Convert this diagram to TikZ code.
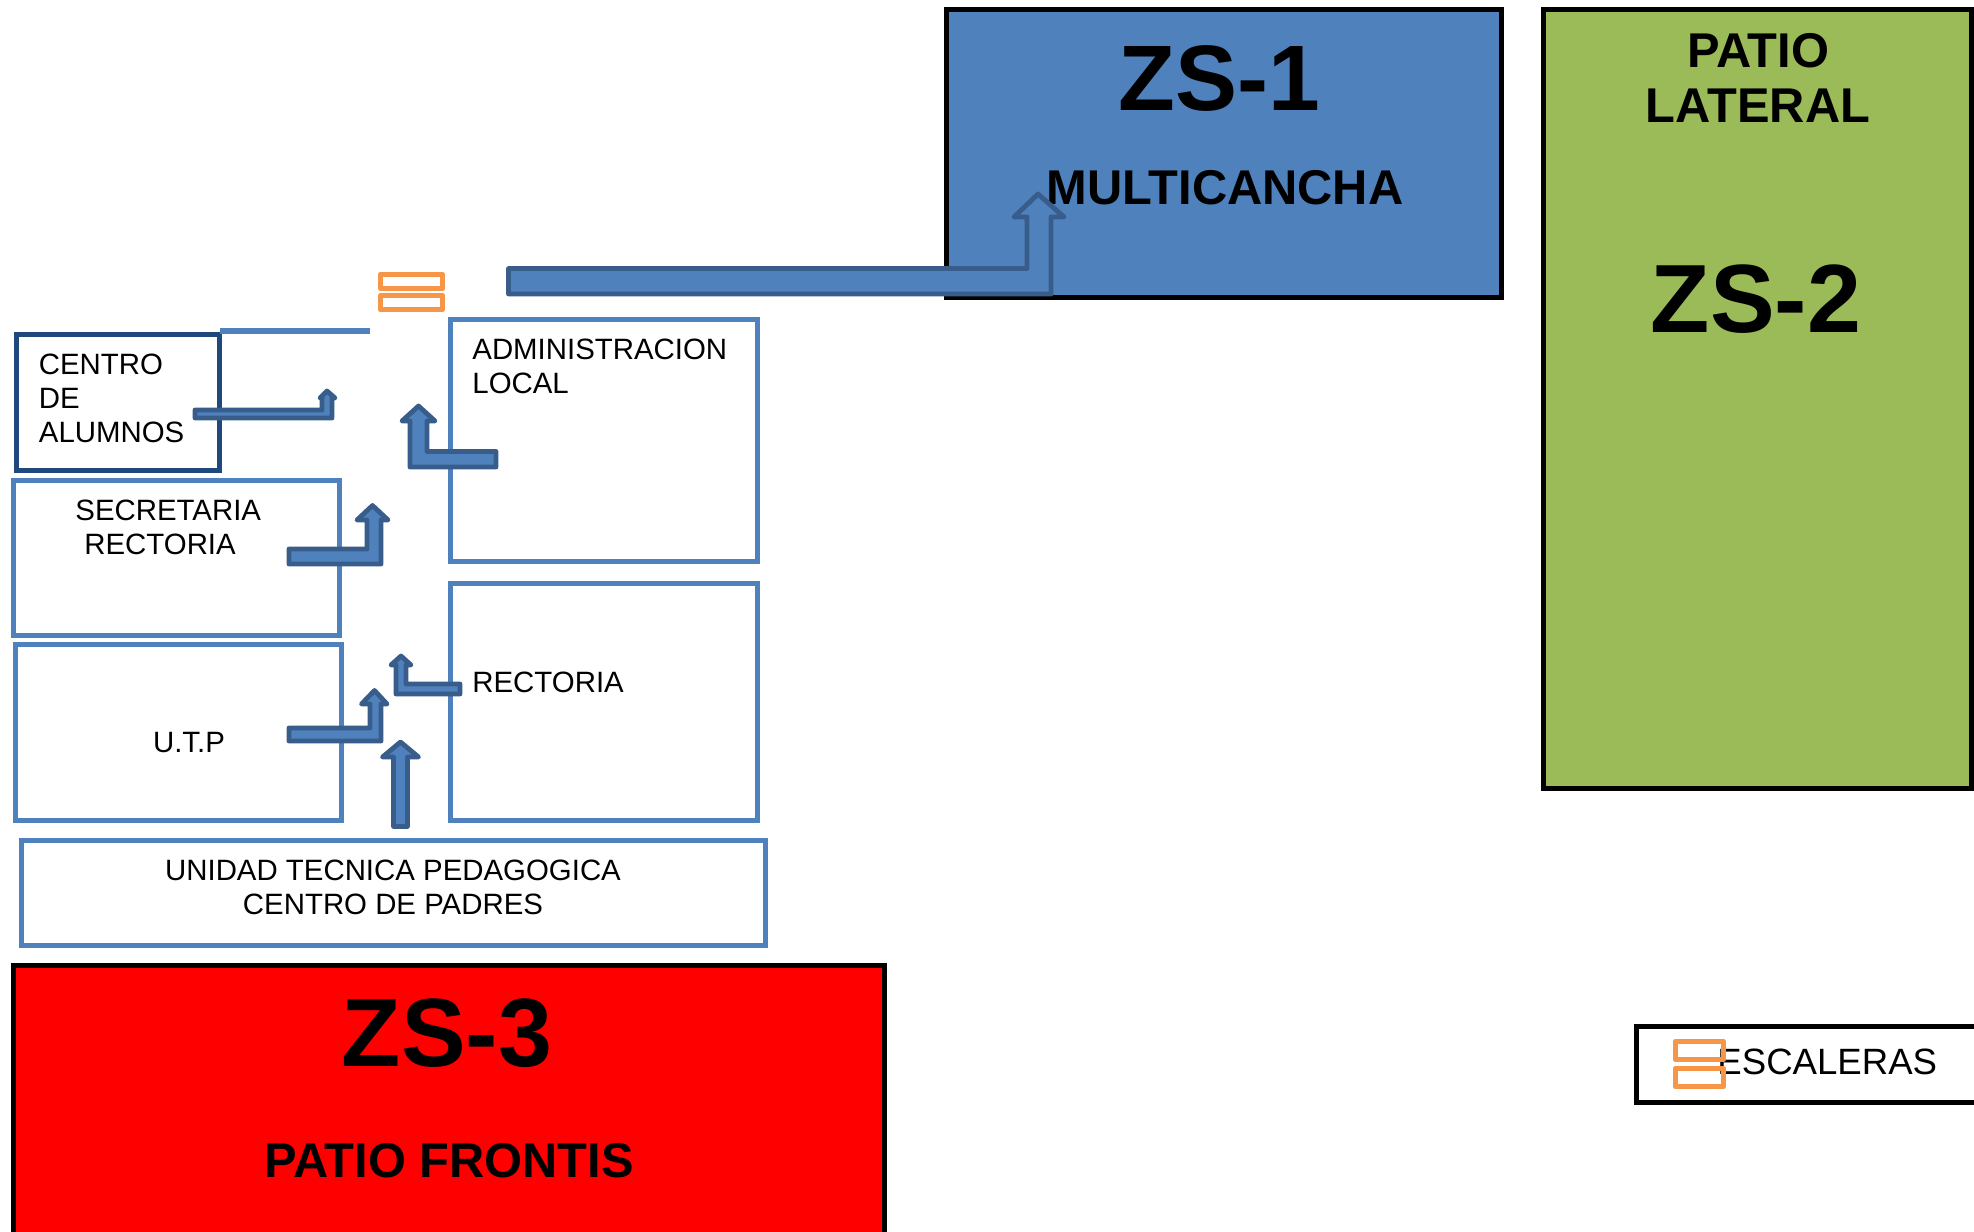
\documentclass[tikz,border=0pt]{standalone}
\usepackage{fontspec}
\setmainfont{Liberation Sans}
\definecolor{azul}{HTML}{4F81BD}
\definecolor{azulborde}{HTML}{385D8A}
\definecolor{azuloscuro}{HTML}{1F497D}
\definecolor{naranja}{HTML}{F79646}
\definecolor{verde}{HTML}{9BBB59}
\tikzset{
  oficina/.style={draw=azul, line width=2.5pt, fill=white},
  zona/.style={draw=black, line width=2.5pt},
  flecha/.style={draw=azulborde, fill=azul, line width=2.4pt, line join=round},
  escalon/.style={draw=naranja, line width=2.7pt, line join=round},
  rotulo/.style={inner sep=0pt, font=\fontsize{14.7}{17}\selectfont},
  zonatitulo/.style={inner sep=0pt, font=\fontsize{48.5}{48}\selectfont\bfseries},
  zonanombre/.style={inner sep=0pt, font=\fontsize{24.4}{27.5}\selectfont\bfseries}
}
\begin{document}
\begin{tikzpicture}[x=0.5pt,y=-0.5pt]
    \clip (0,0) rectangle (1974,1231);
    \fill [white] (0,0) rectangle (1974,1231);

    \draw [zona, fill=azul] (946.5,9.5) rectangle (1501,297);
    \draw [zona, fill=verde] (1543.5,9.5) rectangle (1971.5,788);
    \draw [zona, fill=red] (13.5,965.5) rectangle (884,1250);
    \draw [zona] (1636.5,1026.5) rectangle (1990,1102.5);

    \draw [oficina] (450,319) rectangle (757.5,561);
    \draw [oficina] (450,583) rectangle (757.5,820);
    \draw [oficina] (13.5,480) rectangle (339.5,635);
    \draw [oficina] (15.5,644) rectangle (341.5,820);
    \draw [oficina] (21,840) rectangle (765.5,945);
    \draw [oficina, draw=azuloscuro] (16.5,334.5) rectangle (219.5,470.5);
    \draw [azul, line width=3pt] (220,331) -- (369.5,331);

    \node [zonatitulo, anchor=base, font=\fontsize{46.5}{48}\selectfont\bfseries] (zs1) at (1219,110) {ZS-1};
    \node [zonanombre, anchor=base] (multicancha) at (1225,204) {MULTICANCHA};
    \node [zonanombre, anchor=base, align=center] (lateral) at (1758,122) {PATIO\\LATERAL};
    \node [zonatitulo, anchor=base] (zs2) at (1756,332) {ZS-2};
    \node [zonatitulo, anchor=base] (zs3) at (447,1066) {ZS-3};
    \node [zonanombre, anchor=base] (frontis) at (449,1177) {PATIO FRONTIS};

    \node [rotulo, anchor=base west, align=left] (alumnos) at (38.5,442) {CENTRO\\DE\\ALUMNOS};
    \node [rotulo, anchor=base west, align=left] (secretaria) at (75,554) {SECRETARIA\\\hspace*{4.5pt}RECTORIA};
    \node [rotulo, anchor=base west, align=left] (admin) at (472,393) {ADMINISTRACION\\LOCAL};
    \node [rotulo, anchor=base west] (rectoria) at (472,692) {RECTORIA};
    \node [rotulo, anchor=base] (utp) at (189,752) {U.T.P};
    \node [rotulo, anchor=base, align=center] (unidad) at (393,914) {UNIDAD TECNICA PEDAGOGICA\\CENTRO DE PADRES};
    \node [rotulo, anchor=base west, font=\fontsize{18.3}{20}\selectfont] (escaleras) at (1717,1074) {ESCALERAS};

    \draw [flecha] (195,410) -- (322,410) -- (322,398) -- (320,398) -- (327,391) -- (335,398) -- (332,398) -- (332,418) -- (195,418) -- cycle;
    \draw [flecha] (496,451.5) -- (427,451.5) -- (427,421) -- (435,421) -- (418.5,406) -- (402,421) -- (410,421) -- (410,467) -- (496,467) -- cycle;
    \draw [flecha] (289,549) -- (367,549) -- (367,520) -- (357,520) -- (372.5,505.5) -- (388,520) -- (381,520) -- (381,564) -- (289,564) -- cycle;
    \draw [flecha] (460,684) -- (406,684) -- (406,665) -- (411,665) -- (401,656) -- (391,665) -- (396,665) -- (396,694) -- (460,694) -- cycle;
    \draw [flecha] (289,728) -- (370,728) -- (370,704) -- (361.5,704) -- (374.5,690.5) -- (387,704) -- (381,704) -- (381,741) -- (289,741) -- cycle;
    \draw [flecha] (393.5,826.5) -- (393.5,757) -- (382.5,757) -- (400.5,742) -- (418.5,757) -- (407.5,757) -- (407.5,826.5) -- cycle;
    \draw [flecha] (508.5,268.5) -- (1027,268.5) -- (1027,217) -- (1014,217) -- (1038,194) -- (1064,217) -- (1051,217) -- (1051,294) -- (508.5,294) -- cycle;

    \draw [escalon] (380.5,274.5) rectangle (442.5,288.5);
    \draw [escalon] (380.5,295.5) rectangle (442.5,309.5);
    \draw [escalon] (1675.5,1041.5) rectangle (1723.5,1059.5);
    \draw [escalon] (1675.5,1068.5) rectangle (1723.5,1086.5);
\end{tikzpicture}
\end{document}
